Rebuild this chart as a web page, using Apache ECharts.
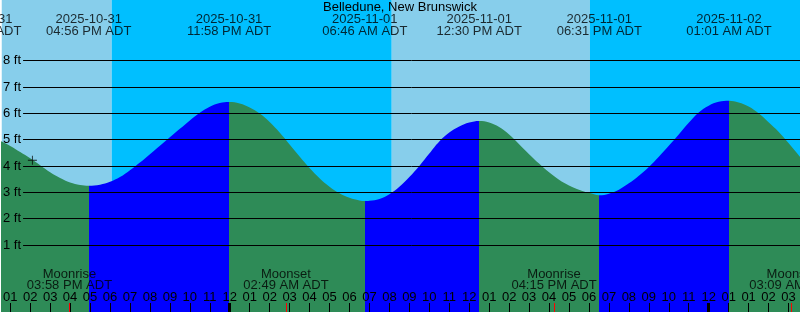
<!DOCTYPE html>
<html>
<head>
<meta charset="utf-8">
<script src="https://cdn.jsdelivr.net/npm/echarts@6/dist/echarts.min.js"></script>
<style>html,body{margin:0;padding:0;background:#fff}#c{width:800px;height:312px}</style>
</head>
<body>
<div id="c"></div>
<script>
// Hours counted from 2025-10-31 00:00 ADT
const tideHours = [12.5,13,13.5,14,14.5,15,15.5,16,16.5,16.933,17.5,18,18.5,19,19.5,20,20.5,21,21.5,22,22.5,23,23.5,23.967,
  24.5,25,25.5,26,26.5,27,27.5,28,28.5,29,29.5,30,30.5,30.767,31,31.5,32,32.5,33,33.5,34,34.5,35,35.5,36,36.5,
  37,37.5,38,38.5,39,39.5,40,40.5,41,41.5,42,42.517,43,43.5,44,44.5,45,45.5,46,46.5,47,47.5,48,48.5,49.017,
  49.5,50,50.5,51,51.5,52,52.5,53];
const tideLevels = [4.95,4.76,4.53,4.29,4.03,3.76,3.54,3.37,3.28,3.25,3.29,3.40,3.58,3.84,4.13,4.45,4.77,5.09,5.41,5.73,6.02,6.25,6.39,6.43,
  6.37,6.22,5.99,5.67,5.27,4.82,4.36,3.92,3.53,3.21,2.96,2.79,2.69,2.67,2.68,2.75,2.93,3.21,3.58,4.00,4.47,4.93,5.27,5.50,5.65,5.71,
  5.65,5.48,5.20,4.83,4.45,4.09,3.76,3.48,3.26,3.10,2.98,2.89,2.95,3.10,3.34,3.63,3.96,4.35,4.77,5.20,5.64,6.03,6.29,6.44,6.48,
  6.41,6.26,6.00,5.66,5.30,4.87,4.42,3.95];

const tideEventHour = [11.45,16.933,23.967,30.767,36.5,42.517,49.017];
const tideEventType = ['High','Low','High','Low','High','Low','High'];
const tideEventDate = ['2025-10-31','2025-10-31','2025-10-31','2025-11-01','2025-11-01','2025-11-01','2025-11-02'];
const tideEventTime = ['11:27 AM ADT','04:56 PM ADT','11:58 PM ADT','06:46 AM ADT','12:30 PM ADT','06:31 PM ADT','01:01 AM ADT'];

const moonEventHour = [15.967,26.817,40.25,52.15];
const moonEventName = ['Moonrise','Moonset','Moonrise','Moonset'];
const moonEventTime = ['03:58 PM ADT','02:49 AM ADT','04:15 PM ADT','03:09 AM AST'];

const sunEventHour = [18.083,32.117,42.05];
const sunEventType = ['Sunset','Sunrise','Sunset'];

const hourTickValues = [13,14,15,16,17,18,19,20,21,22,23,24,25,26,27,28,29,30,31,32,33,34,35,36,37,38,39,40,41,42,43,44,45,46,47,48,49,50,51,52];
const hourTickLabels = ['01','02','03','04','05','06','07','08','09','10','11','12',
  '01','02','03','04','05','06','07','08','09','10','11','12',
  '01','02','03','04','05','06','07','08','09','10','11','12',
  '01','01','02','03'];
const midnightHours = [24,48];

const levelTicks = [1,2,3,4,5,6,7,8];
const stationName = 'Belledune, New Brunswick';
const nowMark = {hour: 14.11, level: 4.22};

// ---- layout / style ----
const FONT = '"Liberation Sans", Arial, sans-serif';
const X_MIN = 12.575, X_MAX = 52.575;
const PX_PER_FT = 26.33, ZERO_PX = 271.3, H = 312;
const Y_MAX = ZERO_PX / PX_PER_FT, Y_MIN = -(H - ZERO_PX) / PX_PER_FT;
const TIDE_LABEL_Y = (ZERO_PX - 25.6) / PX_PER_FT;
const MOON_LABEL_Y = (ZERO_PX - 279.8) / PX_PER_FT;
const DAY = '#87CEEB', NIGHT = '#00BFFF', RISE = '#0000FF', FALL = '#2E8B57';

const tideData = tideHours.map((h, i) => [h, tideLevels[i]]);

// day / night background bands
const bounds = [X_MIN - 5].concat(sunEventHour, [X_MAX + 5]);
const bands = [];
for (let i = 0; i < bounds.length - 1; i++) {
  const isDay = i === 0 ? sunEventType[0] === 'Sunset' : sunEventType[i - 1] === 'Sunrise';
  bands.push([{xAxis: bounds[i], itemStyle: {color: isDay ? DAY : NIGHT}}, {xAxis: bounds[i + 1]}]);
}

// rising / falling colour pieces
const pieces = [];
pieces.push({lt: tideEventHour[0], color: tideEventType[0] === 'High' ? RISE : FALL});
for (let i = 1; i < tideEventHour.length; i++) {
  pieces.push({gte: tideEventHour[i - 1], lt: tideEventHour[i], color: tideEventType[i] === 'High' ? RISE : FALL});
}
pieces.push({gte: tideEventHour[tideEventHour.length - 1], color: tideEventType[tideEventHour.length - 1] === 'High' ? FALL : RISE});

const textBase = {color: '#000', fontSize: 13, fontFamily: FONT};

function tickAxis(values, color, width, z) {
  return {type: 'value', gridIndex: 0, min: X_MIN, max: X_MAX, position: 'bottom', z: z,
    axisLine: {show: false}, splitLine: {show: false}, axisLabel: {show: false},
    axisTick: {show: true, inside: true, length: 9, customValues: values, lineStyle: {color: color, width: width}}};
}

const chart = echarts.init(document.getElementById('c'), null, {renderer: 'canvas'});
chart.setOption({
  animation: false,
  backgroundColor: '#fff',
  title: {
    text: stationName, left: 'center', top: 1, padding: 0,
    textStyle: {fontSize: 13, fontWeight: 'normal', color: '#000', fontFamily: FONT}
  },
  grid: [
    {left: 0, right: 0, top: 0, bottom: 0, containLabel: false},
    {left: 22, right: 0, top: ZERO_PX - 8 * PX_PER_FT, height: 7 * PX_PER_FT, containLabel: false}
  ],
  xAxis: [
    {type: 'value', gridIndex: 0, min: X_MIN, max: X_MAX, position: 'bottom', z: 5,
      axisLine: {show: false}, splitLine: {show: false}, axisTick: {show: false},
      axisLabel: {show: true, inside: true, margin: 8, customValues: hourTickValues,
        formatter: v => hourTickLabels[hourTickValues.indexOf(Math.round(v))] || '', ...textBase}},
    tickAxis(hourTickValues, '#000', 1, 5),
    tickAxis(midnightHours, '#000', 3, 6),
    tickAxis(moonEventHour, '#FF0000', 1, 7),
    {type: 'value', gridIndex: 1, min: 0, max: 1, show: false}
  ],
  yAxis: [
    {type: 'value', gridIndex: 0, min: Y_MIN, max: Y_MAX, show: false},
    {type: 'value', gridIndex: 1, min: levelTicks[0], max: levelTicks[levelTicks.length - 1], interval: 1, z: 4,
      axisLine: {show: false}, axisTick: {show: false},
      splitLine: {show: true, lineStyle: {color: '#000', width: 1}},
      axisLabel: {show: true, margin: 2, formatter: '{value} ft', ...textBase}}
  ],
  visualMap: [{type: 'piecewise', show: false, dimension: 0, seriesIndex: 1, pieces: pieces}],
  series: [
    {type: 'scatter', xAxisIndex: 0, yAxisIndex: 0, z: 1, silent: true,
      data: sunEventHour.map(h => [h, 0]), symbolSize: 0,
      markArea: {silent: true, label: {show: false}, data: bands}},
    {type: 'line', xAxisIndex: 0, yAxisIndex: 0, z: 2, silent: true,
      data: tideData, showSymbol: false, smooth: 0.4,
      lineStyle: {width: 0}, areaStyle: {origin: 'start', opacity: 1}},
    {type: 'scatter', xAxisIndex: 0, yAxisIndex: 0, z: 8, silent: true, clip: false,
      data: tideEventHour.map(h => [h, TIDE_LABEL_Y]), symbolSize: 1,
      itemStyle: {color: 'rgba(0,0,0,0)'},
      label: {show: true, position: 'inside', align: 'center', verticalAlign: 'middle', lineHeight: 11.7,
        formatter: p => tideEventDate[p.dataIndex] + '\n' + tideEventTime[p.dataIndex], ...textBase}},
    {type: 'scatter', xAxisIndex: 0, yAxisIndex: 0, z: 8, silent: true, clip: false,
      data: moonEventHour.map(h => [h, MOON_LABEL_Y]), symbolSize: 1,
      itemStyle: {color: 'rgba(0,0,0,0)'},
      label: {show: true, position: 'inside', align: 'center', verticalAlign: 'middle', lineHeight: 11.5,
        formatter: p => moonEventName[p.dataIndex] + '\n' + moonEventTime[p.dataIndex], ...textBase}},
    {type: 'scatter', xAxisIndex: 0, yAxisIndex: 0, z: 9, silent: true,
      data: [[nowMark.hour, nowMark.level]], symbolSize: 9,
      symbol: 'path://M0,4.5L10,4.5L10,5.5L0,5.5Z M4.5,0L5.5,0L5.5,10L4.5,10Z',
      itemStyle: {color: '#000'}}
  ]
});
</script>
</body>
</html>
